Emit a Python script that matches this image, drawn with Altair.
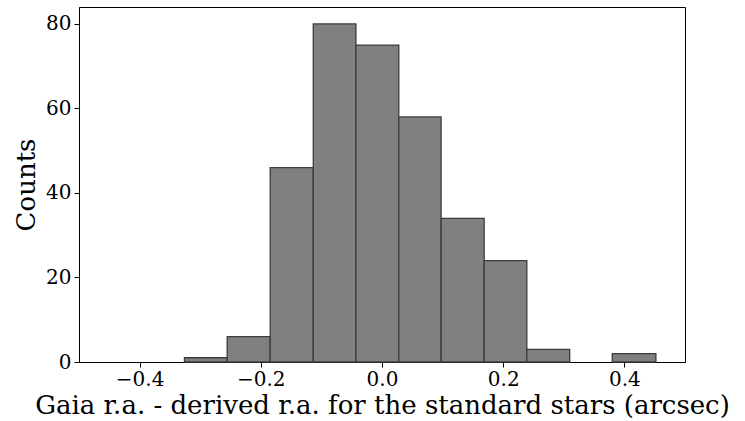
import altair as alt
import pandas as pd

bin_start = [-0.326, -0.2555, -0.1845, -0.1134, -0.043, 0.0277, 0.0975, 0.1686, 0.239, 0.3097, 0.380]
bin_end = [-0.2555, -0.1845, -0.1134, -0.043, 0.0277, 0.0975, 0.1686, 0.239, 0.3097, 0.380, 0.452]
counts = [1, 6, 46, 80, 75, 58, 34, 24, 3, 0, 2]

df = pd.DataFrame({"start": bin_start, "end": bin_end, "count": counts})
df = df[df["count"] > 0]

FONT = "DejaVu Serif"

chart = alt.Chart(df).mark_bar(
    color="#808080", stroke="#3c3c3c", strokeWidth=1.3, opacity=1
).encode(
    x=alt.X("start:Q",
            scale=alt.Scale(domain=[-0.5, 0.5], nice=False, zero=False),
            axis=alt.Axis(values=[-0.4, -0.2, 0.0, 0.2, 0.4], format=".1f",
                          title="Gaia r.a. - derived r.a. for the standard stars (arcsec)",
                          grid=False, tickSize=5, labelPadding=2, titlePadding=3,
                          labelFontSize=20, titleFontSize=26)),
    x2="end:Q",
    y=alt.Y("count:Q",
            scale=alt.Scale(domain=[0, 84], nice=False),
            axis=alt.Axis(values=[0, 20, 40, 60, 80], title="Counts", grid=False,
                          tickSize=5, labelPadding=3, titlePadding=6,
                          labelFontSize=20, titleFontSize=26)),
    y2=alt.datum(0),
).properties(
    width=606, height=355,
    autosize=alt.AutoSizeParams(type="none"),
    padding={"left": 79, "top": 7, "right": 60, "bottom": 59},
).configure_axis(
    labelFont=FONT, titleFont=FONT, labelColor="black", titleColor="black",
    titleFontWeight="normal", domainColor="black", tickColor="black",
    domainWidth=1, tickWidth=1,
).configure_view(stroke="black", strokeWidth=1)

chart.save("out.html", embed_options={"renderer": "svg", "actions": False})
